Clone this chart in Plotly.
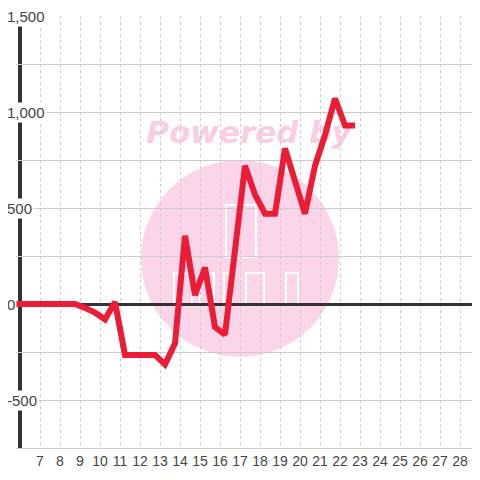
import plotly.graph_objects as go

# dados (x em passos de 0.5)
x_vals = [5.75, 6.25, 6.75, 7.25, 7.75, 8.25, 8.75, 9.25, 9.75, 10.25, 10.75,
          11.25, 11.75, 12.25, 12.75, 13.25, 13.75, 14.25, 14.75, 15.25, 15.75,
          16.25, 16.75, 17.25, 17.75, 18.25, 18.75, 19.25, 19.75, 20.25, 20.75,
          21.25, 21.75, 22.25, 22.75]
y_vals = [0, 0, 0, 0, 0, 0, 0, -20, -45, -80, 10,
          -265, -265, -265, -265, -315, -205, 355, 45, 190, -120,
          -160, 280, 720, 570, 470, 470, 810, 640, 470, 720,
          880, 1070, 930, 930]

x_ticks = list(range(7, 29))
y_ticks = [1500, 1000, 500, 0, -500]
y_tick_text = ["1,500", "1,000", "500", "0", "-500"]

fig = go.Figure()
fig.add_trace(go.Scatter(x=x_vals, y=y_vals, mode="lines",
                         line=dict(color="#ed1c36", width=6),
                         hoverinfo="skip", showlegend=False))

# marca d'agua
fig.add_shape(type="circle", xref="x", yref="y", x0=12.05, x1=21.95, y0=-275, y1=750,
              fillcolor="#fbd5ea", line_width=0, layer="below")
fig.add_shape(type="rect", xref="x", yref="y", x0=12.65, x1=22.25, y0=770, y1=1040,
              fillcolor="rgba(0,0,0,0)", line_width=0, layer="below",
              label=dict(text="<b><i>Powered by</i></b>",
                         font=dict(family="DejaVu Sans", size=31, color="#f9cde4")))
fig.add_shape(type="rect", xref="x", yref="y", x0=16.3, x1=17.8, y0=245, y1=515,
              fillcolor="rgba(0,0,0,0)", line=dict(color="white", width=2), layer="below")
for a, b in [(13.7, 14.6), (15.0, 15.7), (16.2, 16.6), (17.3, 18.2), (19.3, 19.9)]:
    fig.add_shape(type="rect", xref="x", yref="y", x0=a, x1=b, y0=-5, y1=160,
                  fillcolor="rgba(0,0,0,0)", line=dict(color="white", width=2), layer="below")

# eixo y grosso
fig.add_shape(type="line", xref="x", yref="paper", x0=6, x1=6, y0=0, y1=1,
              line=dict(color="#333333", width=4), layer="between")

for v, t in zip(y_ticks, y_tick_text):
    fig.add_annotation(x=0, xref="paper", y=v, yref="y", text=t, showarrow=False,
                       xanchor="left", xshift=-11, bgcolor="white", borderpad=1,
                       font=dict(family="Liberation Sans", size=15, color="#444444"))

fig.update_layout(
    width=472, height=472,
    margin=dict(l=8, r=0, t=8, b=32),
    paper_bgcolor="white", plot_bgcolor="white",
    showlegend=False,
    font=dict(family="Liberation Sans", size=14, color="#444444"),
    xaxis=dict(range=[5.8, 29], tickvals=x_ticks, showgrid=True, gridcolor="#cccccc",
               griddash="3px,3px", gridwidth=1, zeroline=False, showline=True,
               linecolor="#cccccc", linewidth=1, ticks=""),
    yaxis=dict(range=[-750, 1500], dtick=500, showgrid=True, gridcolor="#cccccc",
               gridwidth=1, showticklabels=False, zeroline=True,
               zerolinecolor="#333333", zerolinewidth=3, ticks="",
               minor=dict(dtick=250, showgrid=True, gridcolor="#cccccc", gridwidth=1)),
)

fig.write_html("out.html")
